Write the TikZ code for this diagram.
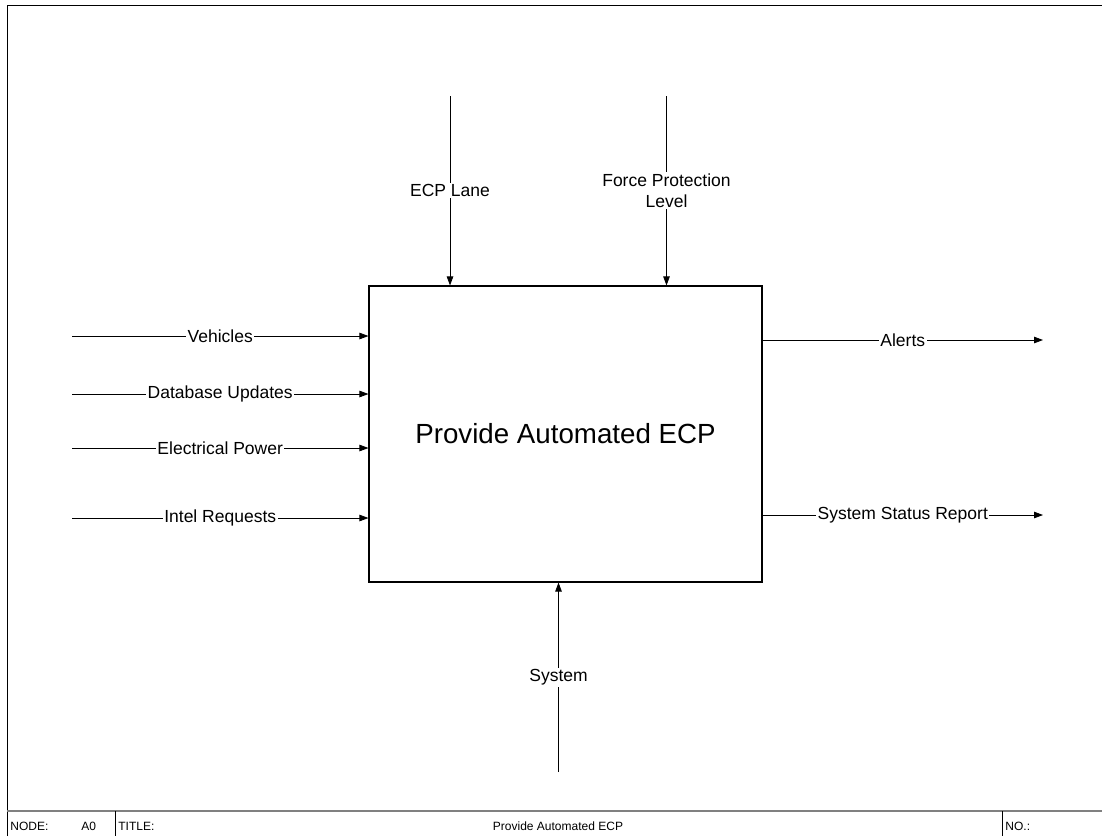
\documentclass[tikz,border=0pt]{standalone}
\usepackage{fontspec}
\setmainfont{Liberation Sans}
\usepackage{tikz}
\usetikzlibrary{arrows.meta,positioning}

\begin{document}
\begin{tikzpicture}[x=1pt,y=-1pt,->,>={Triangle[length=9pt,width=6.5pt]},line width=0.8pt]
    \tikzstyle{func}=[draw=black,line width=1.1pt,minimum width=393pt,minimum height=296pt,inner sep=0pt,font=\fontsize{27.7}{33}\selectfont]
    \tikzstyle{lbl}=[fill=white,inner sep=1.5pt,align=center,font=\fontsize{17.5}{21}\selectfont]
    \tikzstyle{bar}=[inner sep=0pt,anchor=base west,font=\fontsize{12}{14}\selectfont]
    \useasboundingbox (0,0) rectangle (1102,836);
    % frame
    \draw[-] (7,836) -- (7,5) -- (1102,5);
    \draw[-,gray,line width=2pt] (7,811) -- (1102,811);
    \draw[-] (115,811) -- (115,836);
    \draw[-] (1002,811) -- (1002,836);
    \node[bar] (node)  at (10,830)   {NODE:};
    \node[bar] (num)   at (81,830)   {A0};
    \node[bar] (title) at (118,830)  {TITLE:};
    \node[bar,anchor=base] (name) at (558,830) {Provide Automated ECP};
    \node[bar] (no)    at (1005,830) {NO.:};
    % activity
    \node[func] (a0) at (565.5,434) {Provide Automated ECP};
    % inputs
    \coordinate (veh)  at (72,336);
    \coordinate (db)   at (72,394);
    \coordinate (pow)  at (72,448);
    \coordinate (intel) at (72,518);
    % controls
    \coordinate (lane) at (450,96);
    \coordinate (fpl)  at (666.5,96);
    % outputs
    \coordinate (alert) at (1043,340);
    \coordinate (stat)  at (1043,515);
    % mechanism
    \coordinate (sys)  at (558.5,772);
    \path (veh)   edge node[lbl] {Vehicles} (a0.west |- veh)
          (db)    edge node[lbl] {Database Updates} (a0.west |- db)
          (pow)   edge node[lbl] {Electrical Power} (a0.west |- pow)
          (intel) edge node[lbl] {Intel Requests} (a0.west |- intel)
          (lane)  edge node[lbl] {ECP Lane} (a0.north -| lane)
          (fpl)   edge node[lbl] {Force Protection\\Level} (a0.north -| fpl)
          (a0.east |- alert) edge node[lbl] {Alerts} (alert)
          (a0.east |- stat)  edge node[lbl] {System Status Report} (stat)
          (sys)   edge node[lbl] {System} (a0.south -| sys);
\end{tikzpicture}
\end{document}
